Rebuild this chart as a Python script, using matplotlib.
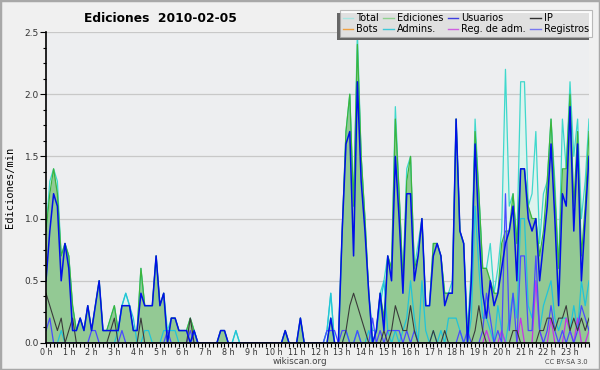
import numpy as np
import matplotlib
matplotlib.use("Agg")
import matplotlib.pyplot as plt
from matplotlib.lines import Line2D
from matplotlib.patches import Rectangle
from matplotlib.ticker import MultipleLocator, FormatStrFormatter
from matplotlib.transforms import IdentityTransform

# edits per minute, one value per 10 minutes (144 slots), 2010-02-05
hour_labels = [f"{h} h" for h in range(24)]

total = [
    0.9, 1.3, 1.4, 1.3, 0.7, 0.8,  0.7, 0.3, 0.1, 0.2, 0.1, 0.3,
    0.1, 0.3, 0.5, 0.1, 0.1, 0.2,  0.3, 0.1, 0.3, 0.4, 0.3, 0.1,
    0.1, 0.6, 0.3, 0.3, 0.3, 0.7,  0.3, 0.4, 0.1, 0.2, 0.2, 0.1,
    0.1, 0.1, 0.2, 0.1, 0.0, 0.0,  0.0, 0.0, 0.0, 0.0, 0.1, 0.1,
    0.0, 0.0, 0.1, 0.0, 0.0, 0.0,  0.0, 0.0, 0.0, 0.0, 0.0, 0.0,
    0.0, 0.0, 0.0, 0.1, 0.0, 0.0,  0.0, 0.2, 0.0, 0.0, 0.0, 0.0,
    0.0, 0.0, 0.1, 0.4, 0.0, 0.0,  0.9, 1.7, 2.0, 1.1, 2.5, 1.5,
    1.0, 0.4, 0.1, 0.1, 0.4, 0.5,  0.7, 0.6, 1.9, 1.2, 0.5, 1.4,
    1.5, 0.6, 0.8, 1.0, 0.3, 0.3,  0.8, 0.8, 0.7, 0.4, 0.4, 0.5,
    1.8, 0.9, 0.8, 0.1, 0.6, 1.8,  1.2, 0.6, 0.6, 0.8, 0.4, 0.6,
    0.9, 2.2, 1.1, 1.2, 0.8, 2.1,  2.1, 1.1, 1.2, 1.7, 0.8, 1.2,
    1.3, 1.8, 1.3, 0.6, 1.8, 1.4,  2.1, 1.5, 1.8, 1.0, 1.3, 1.8,
]
ediciones = [
    0.9, 1.2, 1.4, 1.2, 0.7, 0.8,  0.7, 0.3, 0.1, 0.2, 0.1, 0.3,
    0.1, 0.3, 0.5, 0.1, 0.1, 0.2,  0.3, 0.1, 0.3, 0.3, 0.3, 0.1,
    0.1, 0.6, 0.3, 0.3, 0.3, 0.7,  0.3, 0.4, 0.0, 0.2, 0.2, 0.1,
    0.1, 0.1, 0.2, 0.1, 0.0, 0.0,  0.0, 0.0, 0.0, 0.0, 0.1, 0.1,
    0.0, 0.0, 0.0, 0.0, 0.0, 0.0,  0.0, 0.0, 0.0, 0.0, 0.0, 0.0,
    0.0, 0.0, 0.0, 0.1, 0.0, 0.0,  0.0, 0.2, 0.0, 0.0, 0.0, 0.0,
    0.0, 0.0, 0.0, 0.2, 0.0, 0.0,  0.9, 1.7, 2.0, 1.1, 2.4, 1.5,
    1.0, 0.4, 0.0, 0.1, 0.4, 0.2,  0.7, 0.6, 1.8, 1.2, 0.5, 1.3,
    1.5, 0.6, 0.7, 1.0, 0.3, 0.3,  0.8, 0.8, 0.7, 0.4, 0.4, 0.4,
    1.8, 0.9, 0.8, 0.0, 0.5, 1.7,  1.2, 0.6, 0.6, 0.5, 0.4, 0.4,
    0.8, 0.9, 0.9, 1.2, 0.8, 1.4,  1.4, 1.1, 1.0, 1.0, 0.7, 0.9,
    1.3, 1.8, 1.2, 0.6, 1.4, 1.4,  2.0, 1.1, 1.7, 0.7, 1.1, 1.7,
]
usuarios = [
    0.5, 0.9, 1.2, 1.1, 0.5, 0.8,  0.6, 0.1, 0.1, 0.2, 0.1, 0.3,
    0.1, 0.3, 0.5, 0.1, 0.1, 0.1,  0.1, 0.1, 0.3, 0.3, 0.3, 0.1,
    0.1, 0.4, 0.3, 0.3, 0.3, 0.7,  0.3, 0.4, 0.0, 0.2, 0.2, 0.1,
    0.1, 0.1, 0.0, 0.1, 0.0, 0.0,  0.0, 0.0, 0.0, 0.0, 0.1, 0.1,
    0.0, 0.0, 0.0, 0.0, 0.0, 0.0,  0.0, 0.0, 0.0, 0.0, 0.0, 0.0,
    0.0, 0.0, 0.0, 0.1, 0.0, 0.0,  0.0, 0.2, 0.0, 0.0, 0.0, 0.0,
    0.0, 0.0, 0.0, 0.2, 0.0, 0.0,  0.9, 1.6, 1.7, 0.7, 2.1, 1.3,
    0.9, 0.4, 0.0, 0.1, 0.4, 0.1,  0.7, 0.5, 1.5, 1.0, 0.4, 1.2,
    1.2, 0.5, 0.7, 1.0, 0.3, 0.3,  0.7, 0.8, 0.7, 0.3, 0.4, 0.4,
    1.8, 0.9, 0.8, 0.0, 0.5, 1.6,  0.9, 0.4, 0.2, 0.5, 0.3, 0.4,
    0.6, 0.8, 0.9, 1.1, 0.5, 1.4,  1.4, 1.0, 0.9, 1.0, 0.5, 0.8,
    1.1, 1.6, 1.0, 0.3, 1.2, 1.1,  1.9, 0.9, 1.6, 0.5, 1.0, 1.5,
]
ip = [
    0.4, 0.3, 0.2, 0.1, 0.2, 0.0,  0.1, 0.2, 0.0, 0.0, 0.0, 0.0,
    0.0, 0.0, 0.0, 0.0, 0.0, 0.1,  0.2, 0.0, 0.0, 0.0, 0.0, 0.0,
    0.0, 0.2, 0.0, 0.0, 0.0, 0.0,  0.0, 0.0, 0.0, 0.0, 0.0, 0.0,
    0.0, 0.0, 0.2, 0.0, 0.0, 0.0,  0.0, 0.0, 0.0, 0.0, 0.0, 0.0,
    0.0, 0.0, 0.0, 0.0, 0.0, 0.0,  0.0, 0.0, 0.0, 0.0, 0.0, 0.0,
    0.0, 0.0, 0.0, 0.0, 0.0, 0.0,  0.0, 0.0, 0.0, 0.0, 0.0, 0.0,
    0.0, 0.0, 0.0, 0.0, 0.0, 0.0,  0.0, 0.1, 0.3, 0.4, 0.3, 0.2,
    0.1, 0.0, 0.0, 0.0, 0.0, 0.1,  0.0, 0.1, 0.3, 0.2, 0.1, 0.1,
    0.3, 0.1, 0.0, 0.0, 0.0, 0.0,  0.1, 0.0, 0.0, 0.1, 0.0, 0.0,
    0.0, 0.0, 0.0, 0.0, 0.0, 0.1,  0.3, 0.1, 0.0, 0.0, 0.0, 0.0,
    0.0, 0.0, 0.0, 0.1, 0.1, 0.0,  0.0, 0.0, 0.0, 0.0, 0.1, 0.1,
    0.2, 0.2, 0.1, 0.2, 0.2, 0.3,  0.1, 0.2, 0.1, 0.2, 0.1, 0.2,
]
admins = [
    0.0, 0.0, 0.0, 0.0, 0.1, 0.0,  0.0, 0.0, 0.0, 0.0, 0.0, 0.0,
    0.0, 0.0, 0.0, 0.0, 0.0, 0.0,  0.0, 0.1, 0.3, 0.4, 0.3, 0.2,
    0.0, 0.0, 0.1, 0.1, 0.0, 0.0,  0.0, 0.1, 0.1, 0.1, 0.1, 0.0,
    0.0, 0.0, 0.0, 0.1, 0.0, 0.0,  0.0, 0.0, 0.0, 0.0, 0.0, 0.0,
    0.0, 0.0, 0.1, 0.0, 0.0, 0.0,  0.0, 0.0, 0.0, 0.0, 0.0, 0.0,
    0.0, 0.0, 0.0, 0.0, 0.0, 0.0,  0.0, 0.0, 0.0, 0.0, 0.0, 0.0,
    0.0, 0.0, 0.1, 0.4, 0.0, 0.0,  0.0, 0.1, 0.0, 0.0, 0.1, 0.0,
    0.0, 0.1, 0.0, 0.1, 0.3, 0.5,  0.1, 0.0, 0.1, 0.0, 0.1, 0.2,
    0.5, 0.2, 0.0, 0.5, 0.1, 0.0,  0.1, 0.0, 0.1, 0.0, 0.2, 0.2,
    0.2, 0.1, 0.0, 0.0, 0.2, 1.1,  0.6, 0.2, 0.2, 0.1, 0.0, 0.3,
    0.1, 0.0, 0.2, 0.4, 0.2, 1.0,  1.0, 0.3, 0.2, 0.5, 0.1, 0.3,
    0.4, 0.5, 0.2, 0.1, 0.2, 0.2,  0.1, 0.3, 0.1, 0.5, 0.3, 0.5,
]
registros = [
    0.1, 0.2, 0.0, 0.0, 0.0, 0.0,  0.0, 0.0, 0.0, 0.0, 0.0, 0.0,
    0.1, 0.1, 0.0, 0.0, 0.0, 0.0,  0.0, 0.0, 0.1, 0.0, 0.0, 0.0,
    0.0, 0.0, 0.0, 0.0, 0.0, 0.0,  0.0, 0.0, 0.1, 0.0, 0.0, 0.0,
    0.0, 0.0, 0.1, 0.0, 0.0, 0.0,  0.0, 0.0, 0.0, 0.0, 0.0, 0.0,
    0.0, 0.0, 0.0, 0.0, 0.0, 0.0,  0.0, 0.0, 0.0, 0.0, 0.0, 0.0,
    0.0, 0.0, 0.0, 0.0, 0.0, 0.0,  0.0, 0.0, 0.0, 0.0, 0.0, 0.0,
    0.0, 0.0, 0.1, 0.1, 0.1, 0.0,  0.1, 0.1, 0.0, 0.0, 0.1, 0.0,
    0.0, 0.0, 0.2, 0.0, 0.1, 0.0,  0.1, 0.1, 0.1, 0.1, 0.0, 0.1,
    0.0, 0.1, 0.0, 0.0, 0.0, 0.0,  0.0, 0.0, 0.0, 0.0, 0.0, 0.0,
    0.0, 0.1, 0.0, 0.1, 0.0, 0.0,  0.0, 0.1, 0.4, 0.2, 0.0, 0.1,
    0.0, 1.2, 0.1, 0.4, 0.0, 0.7,  0.7, 0.1, 0.1, 0.7, 0.1, 0.0,
    0.1, 0.3, 0.1, 0.0, 0.1, 0.0,  0.1, 0.0, 0.1, 0.3, 0.2, 0.1,
]
reg_adm = [0.0] * 116 + [
    0.1, 0.0, 0.0, 0.0,  0.1, 0.0, 0.0, 0.0, 0.0, 0.2,
    0.0, 0.0, 0.0, 0.5, 0.1, 0.0,  0.0, 0.2, 0.0, 0.0, 0.0, 0.2,
    0.1, 0.0, 0.2, 0.0, 0.0, 0.1,
]
bots = [0.0] * 144

x = np.arange(len(total)) / 6.0

fig = plt.figure(figsize=(6.0, 3.7), dpi=100, facecolor="#f0f0f0")
ax = fig.add_axes([46 / 600, 1 - 343 / 370, 543 / 600, 311 / 370])
ax.set_facecolor("#edeef0")

ax.fill_between(x, 0, total, color="#ddf3ee", linewidth=0, zorder=1)
ax.fill_between(x, 0, ediciones, color="#93c994", linewidth=0, zorder=2)
ax.plot(x, total, color="#3fd8cc", linewidth=0.9, zorder=3)
ax.plot(x, ediciones, color="#3cb43c", linewidth=0.9, zorder=4)
ax.plot(x, bots, color="#f0a040", linewidth=0.8, zorder=2.5)
ax.plot(x, admins, color="#22c4d8", linewidth=0.9, zorder=5)
ax.plot(x, reg_adm, color="#c832e6", linewidth=0.9, zorder=6)
ax.plot(x, registros, color="#4a4aff", linewidth=0.9, zorder=7)
ax.plot(x, ip, color="#3a3a3a", linewidth=0.8, zorder=8)
ax.plot(x, usuarios, color="#0010e8", linewidth=1.1, zorder=9)

ax.set_xlim(0, x[-1])
ax.set_ylim(0, 2.5)
ax.set_axisbelow(True)
ax.yaxis.set_major_locator(MultipleLocator(0.5))
ax.yaxis.set_minor_locator(MultipleLocator(0.125))
ax.yaxis.set_major_formatter(FormatStrFormatter("%.1f"))
ax.set_xticks(range(24))
ax.set_xticklabels(hour_labels)
ax.xaxis.set_minor_locator(MultipleLocator(1 / 6))
ax.grid(axis="y", color="#c8c8c8", linewidth=0.9)
ax.tick_params(axis="y", which="major", length=4, width=0.8, labelsize=6.5, labelcolor="#333333", pad=1)
ax.tick_params(axis="y", which="minor", length=2.5, width=0.8)
ax.tick_params(axis="x", which="major", length=3, width=0.8, labelsize=5.8, labelcolor="#333333", pad=0.5)
ax.tick_params(axis="x", which="minor", length=3, width=0.8)
for side in ("top", "right"):
    ax.spines[side].set_visible(False)
for side in ("left", "bottom"):
    ax.spines[side].set_linewidth(1.2)
    ax.spines[side].set_zorder(10)

fig.text(160 / 600, 1 - 18 / 370, "Ediciones  2010-02-05", ha="center", va="center",
         fontsize=8.8, fontweight="bold")
fig.text(10 / 600, 1 - 187 / 370, "Ediciones/min", rotation=90, ha="center", va="center",
         fontsize=7.5, family="DejaVu Sans Mono")
fig.text(300 / 600, 1 - 362 / 370, "wikiscan.org", ha="center", va="center",
         fontsize=6.3, color="#444444")
fig.text(588 / 600, 1 - 362 / 370, "CC BY-SA 3.0", ha="right", va="center",
         fontsize=4.8, color="#444444")

handles = [
    Line2D([], [], color="#a8e6e2", linewidth=1),
    Line2D([], [], color="#f0a040", linewidth=1),
    Line2D([], [], color="#8fd28f", linewidth=1),
    Line2D([], [], color="#40c8d8", linewidth=1),
    Line2D([], [], color="#4040e0", linewidth=1),
    Line2D([], [], color="#d060e0", linewidth=1),
    Line2D([], [], color="#303030", linewidth=1),
    Line2D([], [], color="#7878f0", linewidth=1),
]
labels = ["Total", "Bots", "Ediciones", "Admins.", "Usuarios", "Reg. de adm.", "IP", "Registros"]
leg = fig.legend(handles, labels, ncol=4, loc="upper right",
                 bbox_to_anchor=(592 / 600, 1 - 10 / 370), frameon=True, fancybox=False,
                 fontsize=7, handlelength=1.1, handletextpad=0.3, columnspacing=0.45,
                 labelspacing=0.12, borderpad=0.3, borderaxespad=0)
leg.get_frame().set_facecolor("white")
leg.get_frame().set_edgecolor("#aaaaaa")
leg.get_frame().set_linewidth(0.8)
leg.set_zorder(20)

fig.canvas.draw()
bb = leg.get_window_extent()
shadow = Rectangle((bb.x0 - 3, bb.y0 - 3), bb.width, bb.height, transform=IdentityTransform(),
                   facecolor="#666666", edgecolor="none", zorder=19)
fig.patches.append(shadow)
fig.patches.append(Rectangle((0, 0), 1, 1, transform=fig.transFigure, fill=False,
                             edgecolor="#a8a8a8", linewidth=2.5, zorder=30))

fig.savefig("out.png", dpi=100, facecolor=fig.get_facecolor())
